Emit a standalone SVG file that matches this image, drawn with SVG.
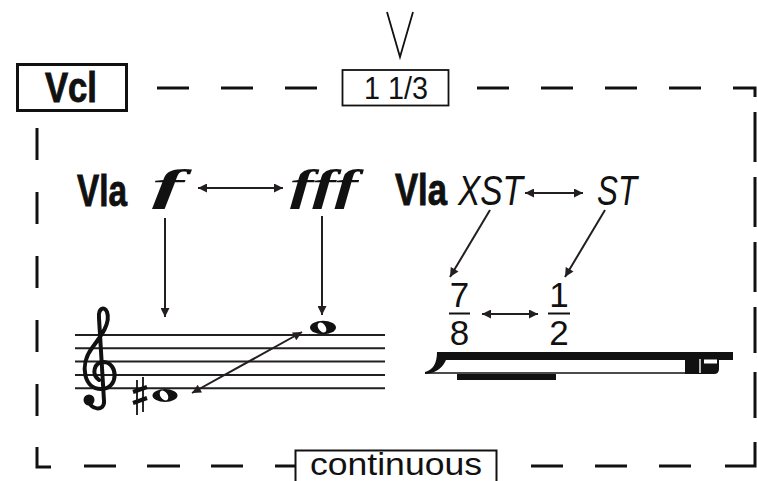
<svg xmlns="http://www.w3.org/2000/svg" width="757" height="481" viewBox="0 0 757 481">
  <style>
    .frame { stroke: #111; stroke-width: 3; fill: none; }
    .box { fill: #fff; stroke: #111; }
    .arrow { stroke: #231f20; stroke-width: 2; fill: none; marker-end: url(#head); }
    .both { marker-start: url(#head); }
    .label { font-family: "Liberation Sans", "DejaVu Sans", sans-serif; fill: #111; }
    .bold { font-weight: bold; stroke: #111; stroke-width: 0.9; }
    .ital { font-style: italic; }
    .dyn { font-family: "Liberation Serif", "DejaVu Serif", serif; font-weight: bold; font-style: italic; fill: #111; }
    .staff { stroke: #231f20; stroke-width: 2; }
  </style>
  <defs>
    <marker id="head" viewBox="0 0 10 10" refX="10" refY="5" markerWidth="10" markerHeight="9" markerUnits="userSpaceOnUse" orient="auto-start-reverse">
      <path d="M0,0 L10,5 L0,10 z" fill="#231f20"/>
    </marker>
  </defs>

  <rect width="757" height="481" fill="#fff"/>

  <!-- dashed outline of the section -->
  <g id="frame" class="frame">
    <path d="M157 88H189M221 88H253M285 88H317"/>
    <path d="M477 88H509M541 88H573M605 88H637M669 88H701M733 88H755V97"/>
    <path d="M755 112V162M755 177V227M755 242V292M755 307V353M755 372V418M755 442V466H725"/>
    <path d="M691 466H659M627 466H595M563 466H531"/>
    <path d="M295 466H275M243 466H211M180 466H147M116 466H84"/>
    <path d="M51 467H37V447M37 416V384M37 352V320M37 288V256M37 224V192M37 160V128"/>
  </g>

  <!-- instrument tag -->
  <g id="vcl">
    <rect class="box" x="17.5" y="64.5" width="109" height="46" stroke-width="3"/>
    <text class="label bold" x="45" y="102" font-size="42" textLength="52" lengthAdjust="spacingAndGlyphs">Vcl</text>
  </g>

  <!-- duration box with bow mark -->
  <g id="duration">
    <path d="M387 12L400 57L413 12" fill="none" stroke="#111" stroke-width="1.8"/>
    <rect class="box" x="342.5" y="70" width="106" height="35.5" stroke-width="1.8"/>
    <text class="label" x="364" y="99" font-size="31" textLength="64" lengthAdjust="spacingAndGlyphs">1 1/3</text>
  </g>

  <!-- dynamics row -->
  <g id="vla-dynamics">
    <text class="label bold" x="77" y="206" font-size="44" textLength="50" lengthAdjust="spacingAndGlyphs">Vla</text>
    <text class="dyn" x="152" y="200" font-size="44" textLength="32" lengthAdjust="spacingAndGlyphs">f</text>
    <text class="dyn" x="290" y="200" font-size="44" textLength="68" lengthAdjust="spacingAndGlyphs">fff</text>
  </g>

  <!-- bow position row -->
  <g id="vla-position">
    <text class="label bold" x="395" y="205" font-size="44" textLength="52" lengthAdjust="spacingAndGlyphs">Vla</text>
    <text class="label ital" x="458" y="205" font-size="42" textLength="65" lengthAdjust="spacingAndGlyphs">XST</text>
    <text class="label ital" x="597" y="205" font-size="42" textLength="40" lengthAdjust="spacingAndGlyphs">ST</text>
  </g>

  <!-- staff with clef and two whole notes -->
  <g id="staff">
    <g class="staff">
      <line x1="75" y1="335" x2="385" y2="335"/>
      <line x1="75" y1="348.3" x2="385" y2="348.3"/>
      <line x1="75" y1="361.6" x2="385" y2="361.6"/>
      <line x1="75" y1="375" x2="385" y2="375"/>
      <line x1="75" y1="388.3" x2="385" y2="388.3"/>
    </g>
    <!-- treble clef -->
    <path d="M89 400C89 410 105 412 104 401L99 318C98 309 104 305 107 312C111 323 101 336 92 348C79 365 84 390 102 389C119 388 118 363 104 362C94 362 91 374 99 380" fill="none" stroke="#111" stroke-width="4" stroke-linecap="round" stroke-linejoin="round"/>
    <circle cx="89" cy="400" r="5.5" fill="#111"/>
    <!-- sharp -->
    <g stroke="#111">
      <line x1="137" y1="380" x2="137" y2="415" stroke-width="1.8"/>
      <line x1="143" y1="377" x2="143" y2="412" stroke-width="1.8"/>
      <line x1="133" y1="392" x2="147" y2="387" stroke-width="4"/>
      <line x1="133" y1="403" x2="147" y2="398" stroke-width="4"/>
    </g>
    <!-- whole notes -->
    <g>
      <ellipse cx="165" cy="395.5" rx="12.5" ry="6.5" fill="#111"/>
      <ellipse cx="164" cy="395.5" rx="3.6" ry="5.4" fill="#fff" transform="rotate(-35 164 395.5)"/>
      <ellipse cx="323" cy="327.5" rx="13" ry="6.8" fill="#111"/>
      <ellipse cx="322" cy="327.5" rx="3.6" ry="5.6" fill="#fff" transform="rotate(-35 322 327.5)"/>
    </g>
  </g>

  <!-- string length fractions -->
  <g id="fractions">
    <text class="label" x="459.5" y="307" font-size="35" text-anchor="middle">7</text>
    <line x1="449" y1="313.5" x2="470" y2="313.5" stroke="#111" stroke-width="2"/>
    <text class="label" x="459.5" y="345" font-size="35" text-anchor="middle">8</text>
    <text class="label" x="559" y="307" font-size="35" text-anchor="middle">1</text>
    <line x1="548" y1="313.5" x2="570" y2="313.5" stroke="#111" stroke-width="2"/>
    <text class="label" x="559" y="345" font-size="35" text-anchor="middle">2</text>
  </g>

  <!-- bow-length graphic -->
  <g id="bow">
    <path d="M437 352H733V360H446C443 367 437 373 425 374V372C433 370 437 363 437 352Z" fill="#111"/>
    <line x1="425" y1="373" x2="688" y2="373" stroke="#111" stroke-width="1.6"/>
    <rect x="457" y="374" width="99" height="6" fill="#111"/>
    <path d="M685 358H719V369Q719 374 714 374H685Z" fill="#111"/>
    <line x1="700" y1="359" x2="700" y2="373" stroke="#fff" stroke-width="1.4"/>
    <rect x="704" y="359.5" width="13" height="4" fill="#fff"/>
  </g>

  <!-- mode label -->
  <g id="continuous">
    <rect class="box" x="295.5" y="450.5" width="201" height="36" stroke-width="2"/>
    <text class="label" x="310" y="475" font-size="32" textLength="172" lengthAdjust="spacingAndGlyphs">continuous</text>
  </g>

  <!-- connectors -->
  <g id="connectors">
    <line class="arrow both" x1="198" y1="188" x2="283" y2="188"/>
    <line class="arrow" x1="165" y1="218" x2="165" y2="317"/>
    <line class="arrow" x1="322" y1="216" x2="322" y2="315"/>
    <line class="arrow both" x1="192" y1="393" x2="302" y2="332"/>
    <line class="arrow both" x1="525" y1="193" x2="583" y2="193"/>
    <line class="arrow" x1="490" y1="210" x2="450" y2="277"/>
    <line class="arrow" x1="605" y1="210" x2="565" y2="277"/>
    <line class="arrow both" x1="482" y1="314" x2="538" y2="314"/>
  </g>
</svg>
